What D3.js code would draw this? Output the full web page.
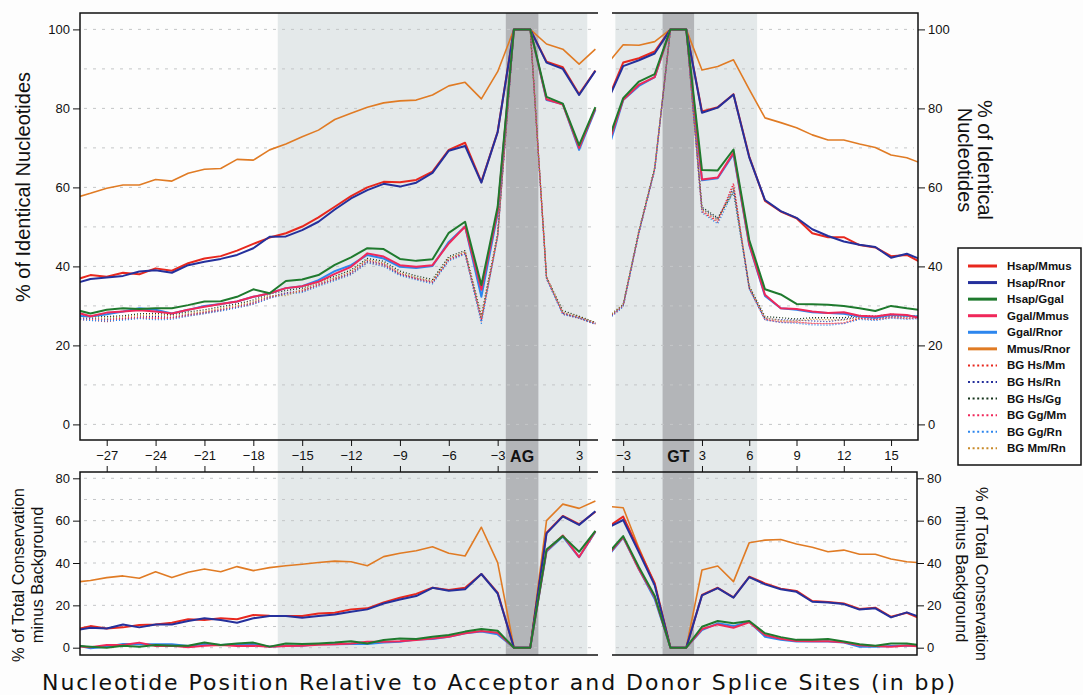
<!DOCTYPE html>
<html>
<head>
<meta charset="utf-8">
<script src="https://cdn.jsdelivr.net/npm/d3@7"></script>
<style>
  body { margin: 0; background: #fff; }
  svg { display: block; font-family: 'Liberation Sans', Arial, sans-serif; }
</style>
</head>
<body>
<script>
// ----------------------------------------------------------------------------
// positions (no 0: intron side is negative, exon side positive)
var accPos = [-29, -28, -27, -26, -25, -24, -23, -22, -21, -20, -19, -18, -17, -16, -15,
  -14, -13, -12, -11, -10, -9, -8, -7, -6, -5, -4, -3, -2, -1, 1, 2, 3, 4];
var donPos = [-4, -3, -2, -1, 1, 2, 3, 4, 5, 6, 7, 8, 9, 10, 11, 12, 13, 14, 15, 16, 17];

var accTicks = [-27, -24, -21, -18, -15, -12, -9, -6, -3, 3];
var donTicks = [-3, 3, 6, 9, 12, 15];
var topTicks = [0, 20, 40, 60, 80, 100];
var botTicks = [0, 20, 40, 60, 80];

// ----------------------------------------------------------------------------
// % identical nucleotides, acceptor side
var hsMmTopAcc = [36.5, 37.8, 37.4, 38.4, 38.0, 39.5, 38.9, 40.8, 42.0, 42.6, 44.0, 45.7, 47.3, 48.4, 50.1,
  52.4, 55.1, 57.8, 60.0, 61.4, 61.3, 61.9, 64.0, 69.5, 71.3, 61.4, 74.1, 100, 100, 91.8, 90.4, 83.6, 89.6];
var hsRnTopAcc = [35.6, 36.8, 37.2, 37.6, 38.7, 39.0, 38.4, 40.3, 41.2, 41.9, 42.9, 44.6, 47.5, 47.6, 49.2,
  51.3, 54.4, 57.2, 59.3, 60.9, 60.2, 61.2, 63.7, 69.3, 70.5, 61.2, 74.0, 100, 100, 91.6, 90.0, 83.4, 89.5];
var hsGgTopAcc = [29.1, 28.1, 29.0, 29.4, 29.2, 29.4, 29.4, 30.2, 31.1, 31.2, 32.3, 34.2, 33.2, 36.3, 36.7,
  37.8, 40.4, 42.3, 44.6, 44.4, 41.9, 41.4, 41.8, 48.5, 51.3, 35.3, 55.1, 100, 100, 82.9, 81.2, 70.7, 80.3];
var ggMmTopAcc = [28.5, 27.4, 28.3, 28.6, 28.9, 28.6, 28.1, 29.0, 29.8, 30.5, 31.1, 32.3, 33.2, 34.5, 35.0,
  36.1, 38.1, 39.9, 43.3, 42.5, 40.3, 39.9, 40.3, 45.8, 50.1, 34.1, 54.0, 100, 100, 82.3, 81.0, 70.0, 80.0];
var ggRnTopAcc = [27.5, 27.3, 27.9, 28.6, 29.4, 29.0, 28.1, 29.0, 30.0, 30.5, 31.1, 32.3, 33.2, 34.5, 35.0,
  36.5, 38.8, 40.3, 42.9, 42.0, 39.9, 39.6, 40.1, 46.2, 50.1, 32.3, 53.4, 100, 100, 82.1, 81.1, 69.5, 79.7];
var mmRnTopAcc = [57.3, 58.5, 59.8, 60.6, 60.6, 62.0, 61.6, 63.6, 64.6, 64.8, 67.1, 66.9, 69.5, 71.0, 72.8,
  74.5, 77.2, 78.8, 80.3, 81.4, 81.9, 82.1, 83.4, 85.7, 86.6, 82.4, 89.3, 100, 100, 96.3, 95.0, 91.2, 95.0];

var bgHsMmAcc = [26.6, 26.4, 26.0, 26.6, 26.9, 26.8, 26.9, 27.5, 28.1, 28.8, 29.6, 30.5, 32.0, 33.2, 33.6,
  35.2, 36.6, 38.0, 41.0, 40.2, 37.9, 36.8, 35.8, 41.6, 43.2, 26.2, 47.6, 100, 100, 37.4, 28.0, 26.8, 25.4];
var bgHsRnAcc = [27.0, 26.8, 26.6, 26.8, 27.2, 27.3, 27.1, 27.8, 28.3, 29.0, 29.8, 30.8, 32.3, 33.3, 33.8,
  35.5, 36.8, 38.3, 41.3, 40.5, 38.0, 37.0, 36.0, 41.8, 43.4, 26.6, 47.8, 100, 100, 37.0, 28.2, 27.0, 25.6];
var bgHsGgAcc = [27.6, 27.5, 27.3, 27.5, 28.0, 28.1, 27.8, 28.5, 29.0, 29.8, 30.5, 31.5, 33.0, 33.9, 34.5,
  36.1, 37.5, 39.1, 42.0, 41.3, 38.8, 37.6, 36.7, 42.5, 44.0, 27.6, 48.3, 100, 100, 37.3, 28.8, 27.4, 25.8];
var bgGgMmAcc = [26.9, 26.5, 26.4, 26.9, 27.1, 27.0, 27.0, 27.7, 28.4, 29.1, 29.8, 30.7, 32.2, 33.1, 33.9,
  35.4, 36.9, 38.5, 41.5, 40.6, 38.2, 36.9, 36.1, 41.8, 43.5, 26.5, 47.7, 100, 100, 36.9, 28.0, 27.1, 25.5];
var bgGgRnAcc = [26.8, 26.3, 26.2, 26.4, 26.8, 26.5, 26.6, 27.4, 28.0, 28.7, 29.5, 30.4, 31.9, 33.0, 33.4,
  35.0, 36.4, 37.9, 40.9, 40.0, 37.7, 36.6, 35.6, 41.4, 43.1, 25.6, 47.5, 100, 100, 36.8, 27.8, 26.9, 25.3];
var bgMmRnAcc = [27.4, 27.1, 26.9, 27.2, 27.6, 27.7, 27.5, 28.1, 28.6, 29.4, 30.1, 31.1, 32.6, 32.6, 34.1,
  35.8, 37.1, 38.7, 41.7, 40.9, 38.4, 37.2, 36.3, 42.1, 43.7, 27.2, 48.0, 100, 100, 37.2, 28.4, 27.2, 25.7];

// % identical nucleotides, donor side
var hsMmTopDon = [82.0, 91.6, 92.7, 94.4, 100, 100, 79.2, 80.3, 83.6, 67.8, 56.6, 53.9, 52.2, 48.4, 47.4, 47.4, 45.4, 44.8, 42.6, 42.9, 40.8];
var hsRnTopDon = [81.8, 90.7, 92.2, 93.9, 100, 100, 78.9, 80.2, 83.5, 67.6, 56.8, 54.0, 52.3, 49.4, 47.7, 46.3, 45.5, 44.9, 42.2, 43.2, 41.6];
var hsGgTopDon = [71.3, 82.6, 86.8, 88.7, 100, 100, 64.4, 64.3, 69.6, 46.7, 34.2, 32.9, 30.5, 30.4, 30.3, 30.0, 29.4, 28.7, 30.0, 29.4, 28.9];
var ggMmTopDon = [70.3, 82.2, 86.0, 87.9, 100, 100, 62.0, 62.5, 68.8, 45.6, 32.8, 29.4, 29.2, 28.6, 28.2, 28.4, 27.5, 27.3, 27.9, 27.7, 26.8];
var ggRnTopDon = [69.0, 82.1, 85.7, 87.9, 100, 100, 61.8, 62.3, 68.4, 45.4, 32.5, 29.4, 29.0, 28.4, 28.2, 28.0, 27.3, 27.0, 27.7, 27.5, 27.2];
var mmRnTopDon = [91.3, 96.1, 96.0, 96.9, 100, 100, 89.7, 90.6, 92.3, 84.8, 77.6, 76.4, 75.1, 73.3, 72.0, 72.0, 71.0, 70.1, 68.2, 67.5, 66.0];

var bgHsMmDon = [26.5, 29.9, 48.5, 64.5, 100, 100, 53.8, 51.2, 60.8, 34.4, 26.5, 26.0, 25.8, 25.6, 25.5, 25.7, 26.8, 26.5, 27.0, 26.8, 26.9];
var bgHsRnDon = [26.8, 30.1, 48.7, 64.7, 100, 100, 54.6, 52.0, 59.8, 34.6, 26.8, 26.5, 26.4, 26.2, 26.0, 26.6, 27.3, 26.8, 27.3, 27.2, 27.2];
var bgHsGgDon = [27.1, 30.4, 49.1, 65.0, 100, 100, 55.0, 52.3, 58.8, 35.0, 27.3, 27.0, 26.7, 27.0, 27.0, 27.0, 27.6, 27.4, 27.9, 27.5, 27.5];
var bgGgMmDon = [26.6, 30.0, 48.6, 64.6, 100, 100, 54.0, 51.5, 61.0, 34.5, 26.6, 25.8, 26.0, 25.5, 25.5, 25.6, 26.9, 26.6, 27.2, 26.9, 27.0];
var bgGgRnDon = [26.4, 29.8, 48.4, 64.4, 100, 100, 53.6, 50.8, 59.0, 34.3, 26.4, 25.8, 25.6, 25.2, 25.1, 25.5, 26.6, 26.3, 26.9, 26.6, 26.8];
var bgMmRnDon = [27.0, 30.3, 48.9, 64.9, 100, 100, 54.4, 51.8, 59.5, 34.8, 27.0, 26.3, 26.2, 26.6, 26.5, 26.4, 27.1, 27.0, 27.5, 27.2, 27.3];

// % total conservation minus background, acceptor side
var hsMmBotAcc = [8.4, 10.2, 9.1, 9.6, 10.7, 11.0, 11.8, 13.4, 13.1, 13.9, 13.4, 15.4, 15.1, 15.0, 15.0,
  16.2, 16.5, 18.1, 18.6, 21.4, 23.6, 25.4, 28.3, 27.2, 28.3, 34.8, 26.0, 0, 0, 54.3, 62.2, 58.3, 64.2];
var hsRnBotAcc = [8.2, 9.4, 9.1, 11.0, 9.6, 11.0, 11.0, 12.6, 13.9, 13.1, 11.8, 13.9, 15.0, 15.0, 14.2,
  15.0, 15.7, 17.0, 18.1, 20.9, 22.8, 24.4, 28.3, 26.9, 27.6, 34.8, 25.6, 0, 0, 54.0, 62.0, 58.0, 64.4];
var hsGgBotAcc = [1.0, 0.5, 0.0, 0.9, 0.5, 1.3, 0.9, 0.9, 2.5, 1.3, 2.0, 2.4, 0.5, 2.0, 1.7,
  2.0, 2.4, 3.1, 2.0, 3.6, 4.4, 4.1, 5.2, 6.0, 7.6, 8.8, 8.0, 0, 0, 46.4, 52.7, 45.3, 55.2];
var ggMmBotAcc = [0.7, 0.2, 1.3, 1.3, 2.4, 0.8, 0.9, 0.2, 0.9, 1.3, 0.8, 0.9, 0.5, 0.8, 0.9,
  1.4, 1.6, 2.0, 2.8, 2.8, 3.1, 3.6, 4.4, 5.2, 6.8, 7.9, 7.1, 0, 0, 45.8, 53.0, 42.8, 55.0];
var ggRnBotAcc = [1.5, -0.3, 0.5, 1.7, 1.6, 1.6, 1.6, 0.8, 1.7, 1.3, 1.6, 1.7, 0.5, 0.9, 0.9,
  1.7, 1.6, 1.7, 1.7, 2.5, 2.8, 3.9, 4.1, 5.2, 6.8, 7.6, 6.3, 0, 0, 45.4, 52.5, 42.7, 54.8];
var mmRnBotAcc = [30.9, 31.7, 33.1, 33.9, 32.8, 35.9, 33.1, 35.6, 37.2, 35.9, 38.3, 36.4, 37.8, 38.7, 39.4,
  40.2, 40.9, 40.6, 38.7, 43.0, 44.6, 45.8, 47.7, 44.6, 43.3, 56.9, 40.2, 0, 0, 60.0, 67.8, 65.8, 69.3];

// % total conservation minus background, donor side
var hsMmBotDon = [56.8, 61.9, 46.0, 30.5, 0, 0, 24.9, 28.3, 23.8, 33.5, 30.4, 27.9, 26.8, 22.0, 21.6, 20.9, 18.3, 18.9, 14.6, 16.5, 13.3];
var hsRnBotDon = [56.6, 60.3, 45.0, 29.5, 0, 0, 24.7, 28.1, 23.6, 33.3, 29.9, 27.6, 26.4, 21.7, 21.4, 20.6, 18.0, 18.6, 14.3, 16.7, 14.0];
var hsGgBotDon = [44.2, 52.7, 38.0, 24.5, 0, 0, 9.9, 12.6, 11.5, 12.6, 6.8, 5.0, 3.7, 3.7, 4.1, 2.9, 1.6, 0.9, 2.0, 2.0, 1.0];
var ggMmBotDon = [43.5, 52.2, 37.0, 24.0, 0, 0, 8.8, 11.0, 9.4, 12.0, 6.0, 4.2, 3.2, 3.0, 3.0, 2.6, 1.2, 0.8, 0.4, 1.0, 0.6];
var ggRnBotDon = [43.0, 52.0, 37.0, 23.0, 0, 0, 8.3, 11.5, 10.2, 12.3, 5.2, 3.7, 2.9, 2.9, 2.9, 2.4, 0.4, 0.4, 0.8, 1.0, 0.7];
var mmRnBotDon = [66.8, 66.1, 47.0, 30.0, 0, 0, 36.7, 38.6, 31.2, 49.6, 50.8, 51.1, 49.0, 47.4, 45.3, 46.1, 44.1, 44.1, 41.9, 40.6, 40.0];

// ----------------------------------------------------------------------------
// series tables built from the arrays above
var solidSeries = [
  { name: 'Hsap/Mmus', color: '#e8281e', width: 2, topAcc: hsMmTopAcc, topDon: hsMmTopDon, botAcc: hsMmBotAcc, botDon: hsMmBotDon },
  { name: 'Hsap/Rnor', color: '#25309c', width: 2, topAcc: hsRnTopAcc, topDon: hsRnTopDon, botAcc: hsRnBotAcc, botDon: hsRnBotDon },
  { name: 'Hsap/Ggal', color: '#1f7a2e', width: 2, topAcc: hsGgTopAcc, topDon: hsGgTopDon, botAcc: hsGgBotAcc, botDon: hsGgBotDon },
  { name: 'Ggal/Mmus', color: '#f0285a', width: 2, topAcc: ggMmTopAcc, topDon: ggMmTopDon, botAcc: ggMmBotAcc, botDon: ggMmBotDon },
  { name: 'Ggal/Rnor', color: '#2d86ee', width: 2, topAcc: ggRnTopAcc, topDon: ggRnTopDon, botAcc: ggRnBotAcc, botDon: ggRnBotDon },
  { name: 'Mmus/Rnor', color: '#e07b24', width: 1.6, topAcc: mmRnTopAcc, topDon: mmRnTopDon, botAcc: mmRnBotAcc, botDon: mmRnBotDon }
];
var bgSeries = [
  { name: 'BG Hs/Mm', color: '#e8281e', acc: bgHsMmAcc, don: bgHsMmDon },
  { name: 'BG Hs/Rn', color: '#25309c', acc: bgHsRnAcc, don: bgHsRnDon },
  { name: 'BG Hs/Gg', color: '#16341c', acc: bgHsGgAcc, don: bgHsGgDon },
  { name: 'BG Gg/Mm', color: '#f0285a', acc: bgGgMmAcc, don: bgGgMmDon },
  { name: 'BG Gg/Rn', color: '#2d86ee', acc: bgGgRnAcc, don: bgGgRnDon },
  { name: 'BG Mm/Rn', color: '#c98a2a', acc: bgMmRnAcc, don: bgMmRnDon }
];

// ----------------------------------------------------------------------------
// layout
var W = 1083, H = 695;
var accL = 80, accR = 598, donL = 612, donR = 918;
var topT = 13, topB = 440, botT = 472, botB = 655;

// plot coordinate: positions skip 0
function toC( p ) { return p < 0 ? p : p - 1; }

var accX = d3.scaleLinear().domain( [-28.64, 3.16] ).range( [accL, accR] );
var donX = d3.scaleLinear().domain( [-3.71, 15.71] ).range( [donL, donR] );
var yTop = d3.scaleLinear().domain( [0, 100] ).range( [424.4, 29.4] );
var yBot = d3.scaleLinear().domain( [0, 80] ).range( [647.7, 478.3] );

var svg = d3.select( 'body' ).append( 'svg' )
  .attr( 'width', W )
  .attr( 'height', H );

svg.append( 'rect' ).attr( 'width', W ).attr( 'height', H ).attr( 'fill', '#fdfdfd' );

var defs = svg.append( 'defs' );
function addClip( id, x, y, w, h ) {
  defs.append( 'clipPath' ).attr( 'id', id )
    .append( 'rect' ).attr( 'x', x ).attr( 'y', y ).attr( 'width', w ).attr( 'height', h );
}
addClip( 'cAT', accL, topT, accR - accL, topB - topT );
addClip( 'cDT', donL, topT, donR - donL, topB - topT );
addClip( 'cAB', accL, botT, accR - accL, botB - botT );
addClip( 'cDB', donL, botT, donR - 1 - donL, botB - botT );

// ----------------------------------------------------------------------------
// shaded regions (run through both panels)
var shades = [
  { x: accX, from: -16.5, to: 2.5, fill: '#e4e9ea' },
  { x: donX, from: -3.5, to: 5.5, fill: '#e4e9ea' },
  { x: accX, from: -2.5, to: -0.5, fill: '#b3b5b8' },
  { x: donX, from: -0.5, to: 1.5, fill: '#b3b5b8' }
];
svg.selectAll( 'rect.shade' )
  .data( shades )
  .enter()
  .append( 'rect' )
  .attr( 'class', 'shade' )
  .attr( 'x', function ( d ) { return d.x( d.from ); } )
  .attr( 'y', topT )
  .attr( 'width', function ( d ) { return d.x( d.to ) - d.x( d.from ); } )
  .attr( 'height', botB - topT )
  .attr( 'fill', function ( d ) { return d.fill; } );

// ----------------------------------------------------------------------------
// dashed grid
function grid( y, vals, right ) {
  [[accL, accR], [donL, right]].forEach( function ( seg ) {
    svg.append( 'g' ).selectAll( 'line' )
      .data( vals )
      .enter()
      .append( 'line' )
      .attr( 'x1', seg[0] + 4 )
      .attr( 'x2', seg[1] - 4 )
      .attr( 'y1', function ( d ) { return y( d ); } )
      .attr( 'y2', function ( d ) { return y( d ); } )
      .attr( 'stroke', '#c4c6c8' )
      .attr( 'stroke-width', 1 )
      .attr( 'stroke-dasharray', '3,6' );
  } );
}
grid( yTop, [0, 10, 20, 30, 40, 50, 60, 70, 80, 90, 100], donR );
grid( yBot, [0, 10, 20, 30, 40, 50, 60, 70, 80], donR - 1 );

// ----------------------------------------------------------------------------
// lines
function drawLine( vals, pos, x, y, clip, color, width, dash ) {
  var line = d3.line()
    .x( function ( d, i ) { return x( toC( pos[i] ) ); } )
    .y( function ( d ) { return y( d ); } );
  svg.append( 'path' )
    .datum( vals )
    .attr( 'clip-path', 'url(#' + clip + ')' )
    .attr( 'd', line )
    .attr( 'fill', 'none' )
    .attr( 'stroke', color )
    .attr( 'stroke-width', width )
    .attr( 'stroke-linejoin', 'round' )
    .attr( 'stroke-dasharray', dash || null );
}

bgSeries.forEach( function ( s ) {
  drawLine( s.acc, accPos, accX, yTop, 'cAT', s.color, 1.3, '1,2' );
  drawLine( s.don, donPos, donX, yTop, 'cDT', s.color, 1.3, '1,2' );
} );

// back to front: orange, red, navy, blue, pink, green
var drawOrder = [5, 0, 1, 4, 3, 2];
drawOrder.forEach( function ( k ) {
  var s = solidSeries[k];
  drawLine( s.topAcc, accPos, accX, yTop, 'cAT', s.color, s.width );
  drawLine( s.topDon, donPos, donX, yTop, 'cDT', s.color, s.width );
  drawLine( s.botAcc, accPos, accX, yBot, 'cAB', s.color, s.width );
  drawLine( s.botDon, donPos, donX, yBot, 'cDB', s.color, s.width );
} );

// ----------------------------------------------------------------------------
// frames (broken between acceptor and donor)
function frame( t, b, r ) {
  var g = svg.append( 'g' ).attr( 'stroke', '#111' ).attr( 'stroke-width', 1.5 ).attr( 'fill', 'none' );
  g.append( 'path' ).attr( 'd', 'M' + accR + ',' + t + 'H' + accL + 'V' + b + 'H' + accR );
  g.append( 'path' ).attr( 'd', 'M' + donL + ',' + t + 'H' + r + 'V' + b + 'H' + donL );
}
frame( topT, topB, donR );
frame( botT, botB, donR - 1 );

// ----------------------------------------------------------------------------
// axes
function styleAxis( g ) {
  g.select( '.domain' ).remove();
  g.selectAll( 'line' ).attr( 'stroke', '#111' );
  g.selectAll( 'text' ).attr( 'font-size', 13 ).attr( 'fill', '#111' )
    .attr( 'font-family', "'Liberation Sans', Arial, sans-serif" );
}

svg.append( 'g' ).attr( 'transform', 'translate(' + accL + ',0)' )
  .call( d3.axisLeft( yTop ).tickValues( topTicks ).tickSize( 7 ).tickPadding( 3 ) )
  .call( styleAxis );
svg.append( 'g' ).attr( 'transform', 'translate(' + donR + ',0)' )
  .call( d3.axisRight( yTop ).tickValues( topTicks ).tickSize( 7 ).tickPadding( 3 ) )
  .call( styleAxis );
svg.append( 'g' ).attr( 'transform', 'translate(' + accL + ',0)' )
  .call( d3.axisLeft( yBot ).tickValues( botTicks ).tickSize( 7 ).tickPadding( 3 ) )
  .call( styleAxis );
svg.append( 'g' ).attr( 'transform', 'translate(' + ( donR - 1 ) + ',0)' )
  .call( d3.axisRight( yBot ).tickValues( botTicks ).tickSize( 7 ).tickPadding( 3 ) )
  .call( styleAxis );

var fmt = d3.format( 'd' );
function xAxes( scale, ticks ) {
  var cs = ticks.map( toC );
  svg.append( 'g' ).attr( 'transform', 'translate(0,' + topB + ')' )
    .call( d3.axisBottom( scale ).tickValues( cs ).tickSize( 6 ).tickPadding( 5 )
      .tickFormat( function ( c ) { return fmt( c < 0 ? c : c + 1 ); } ) )
    .call( styleAxis );
  svg.append( 'g' ).attr( 'transform', 'translate(0,' + botT + ')' )
    .call( d3.axisTop( scale ).tickValues( cs ).tickSize( 6 ).tickFormat( '' ) )
    .call( styleAxis );
}
xAxes( accX, accTicks );
xAxes( donX, donTicks );

svg.append( 'text' ).text( 'AG' )
  .attr( 'x', accX( -1.5 ) ).attr( 'y', 462 )
  .attr( 'text-anchor', 'middle' ).attr( 'font-weight', 'bold' ).attr( 'font-size', 16 ).attr( 'fill', '#111' );
svg.append( 'text' ).text( 'GT' )
  .attr( 'x', donX( 0.5 ) ).attr( 'y', 462 )
  .attr( 'text-anchor', 'middle' ).attr( 'font-weight', 'bold' ).attr( 'font-size', 16 ).attr( 'fill', '#111' );

// ----------------------------------------------------------------------------
// axis titles
function rotLabel( lines, cx, cy, angle, size, gap ) {
  var t = svg.append( 'text' )
    .attr( 'transform', 'translate(' + cx + ',' + cy + ') rotate(' + angle + ')' )
    .attr( 'text-anchor', 'middle' )
    .attr( 'font-size', size )
    .attr( 'fill', '#111' );
  lines.forEach( function ( s, i ) {
    t.append( 'tspan' ).attr( 'x', 0 )
      .attr( 'y', ( i - ( lines.length - 1 ) / 2 ) * gap )
      .attr( 'dy', '0.35em' )
      .text( s );
  } );
}
rotLabel( ['% of Identical Nucleotides'], 23, 187, -90, 20, 0 );
rotLabel( ['% of Identical', 'Nucleotides'], 975, 160, 90, 20, 20 );
rotLabel( ['% of Total Conservation', 'minus Background'], 28, 575, -90, 16.5, 19 );
rotLabel( ['% of Total Conservation', 'minus Background'], 972, 574, 90, 16.5, 20 );

svg.append( 'text' )
  .text( 'Nucleotide Position Relative to Acceptor and Donor Splice Sites (in bp)' )
  .attr( 'x', 42 ).attr( 'y', 690 )
  .attr( 'textLength', 913 ).attr( 'lengthAdjust', 'spacing' )
  .attr( 'font-family', "'DejaVu Sans', sans-serif" )
  .attr( 'font-size', 22 )
  .attr( 'fill', '#111' );

// ----------------------------------------------------------------------------
// legend
var legendItems = solidSeries.map( function ( s ) { return { name: s.name, color: s.color, dash: null }; } )
  .concat( bgSeries.map( function ( s ) { return { name: s.name, color: s.color, dash: '2,2.6' }; } ) );

svg.append( 'rect' )
  .attr( 'x', 958 ).attr( 'y', 248 ).attr( 'width', 123 ).attr( 'height', 217 )
  .attr( 'fill', '#fff' ).attr( 'stroke', '#111' ).attr( 'stroke-width', 1.5 );

var leg = svg.selectAll( 'g.leg' )
  .data( legendItems )
  .enter()
  .append( 'g' )
  .attr( 'class', 'leg' )
  .attr( 'transform', function ( d, i ) { return 'translate(0,' + ( 266 + i * 16.57 ) + ')'; } );

leg.append( 'line' )
  .attr( 'x1', 968 ).attr( 'x2', 997 )
  .attr( 'stroke', function ( d ) { return d.color; } )
  .attr( 'stroke-width', function ( d ) { return d.dash ? 2 : 3; } )
  .attr( 'stroke-dasharray', function ( d ) { return d.dash; } );

leg.append( 'text' )
  .attr( 'x', 1007 )
  .attr( 'dy', '0.35em' )
  .attr( 'font-size', 11.5 )
  .attr( 'font-weight', 'bold' )
  .attr( 'fill', '#111' )
  .text( function ( d ) { return d.name; } );
</script>
</body>
</html>
